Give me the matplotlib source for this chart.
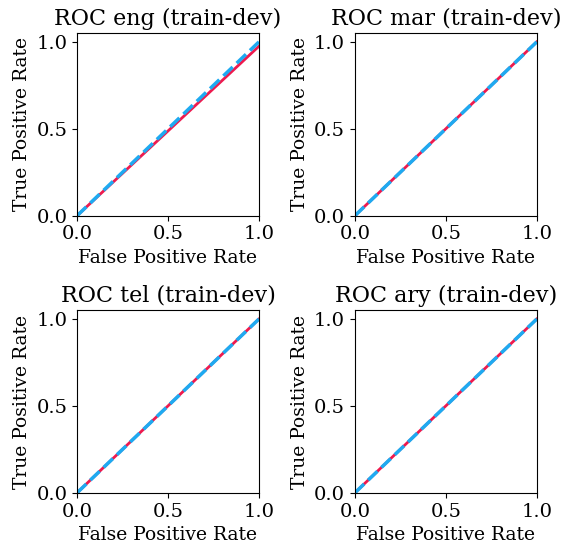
import matplotlib
matplotlib.use('Agg')
import matplotlib.pyplot as plt

plt.rcParams['font.family'] = 'DejaVu Serif'

langs = ['eng', 'mar', 'tel', 'ary']
# ROC points per language (fpr, tpr)
fpr = {
    'eng': [0.0, 1.0],
    'mar': [0.0, 1.0],
    'tel': [0.0, 1.0],
    'ary': [0.0, 1.0],
}
tpr = {
    'eng': [0.0, 0.975],
    'mar': [0.0, 1.0],
    'tel': [0.0, 1.0],
    'ary': [0.0, 1.0],
}
chance = [0.0, 1.0]
ticks = [0.0, 0.5, 1.0]

fig, axes = plt.subplots(2, 2, figsize=(5.68, 5.44), dpi=100)
fig.subplots_adjust(left=0.1356, right=0.945, top=0.939, bottom=0.094,
                    wspace=0.527, hspace=0.518)

for ax, lang in zip(axes.flat, langs):
    ax.plot(fpr[lang], tpr[lang], color='#ee1a4e', lw=2)
    ax.plot(chance, chance, color='#1eaaf1', lw=2.5, linestyle='--')
    ax.set_xlim(0.0, 1.0)
    ax.set_ylim(0.0, 1.05)
    ax.set_xticks(ticks)
    ax.set_yticks(ticks)
    ax.tick_params(labelsize=14)
    ax.set_xlabel('False Positive Rate', fontsize=13.5)
    ax.set_ylabel('True Positive Rate', fontsize=13.5)
    ax.set_title('ROC %s (train-dev)' % lang, fontsize=16)

plt.savefig('out.png', dpi=100)
